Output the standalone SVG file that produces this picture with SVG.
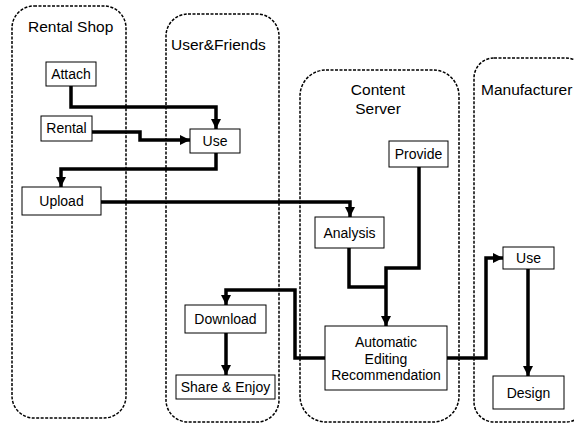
<svg xmlns="http://www.w3.org/2000/svg" width="574" height="425" viewBox="0 0 574 425">
<defs>
<style>
.lane{fill:none;stroke:#000;stroke-width:1.5;stroke-dasharray:3,1.5}
.box{fill:#fff;stroke:#000;stroke-width:1}
.t{font-family:"Liberation Sans",Arial,sans-serif;font-size:14px;fill:#000;text-anchor:middle}
.lt{font-family:"Liberation Sans",Arial,sans-serif;font-size:15.5px;fill:#000}
.c{fill:none;stroke:#000;stroke-width:3.5;stroke-linejoin:miter}
</style>
<marker id="ah" viewBox="0 0 10 10" refX="10" refY="5" markerWidth="3" markerHeight="3" orient="auto" markerUnits="strokeWidth">
<path d="M0,0 L10,5 L0,10 z" fill="#000"/>
</marker>
</defs>
<rect width="574" height="425" fill="#fff"/>
<g id="lanes">
<g id="lane-rental"><rect class="lane" x="12" y="6" width="114" height="412" rx="22"/><text class="lt" x="28" y="32">Rental Shop</text></g>
<g id="lane-user"><rect class="lane" x="166" y="14" width="113" height="408" rx="22"/><text class="lt" x="171" y="50">User&amp;Friends</text></g>
<g id="lane-server"><rect class="lane" x="300" y="70" width="159" height="352" rx="26"/><text class="lt" x="378" y="95" text-anchor="middle">Content</text><text class="lt" x="378" y="114" text-anchor="middle">Server</text></g>
<g id="lane-mfr"><rect class="lane" x="474" y="58" width="112" height="364" rx="20"/><text class="lt" x="481" y="95">Manufacturer</text></g>
</g>
<g id="connectors">
<path class="c" d="M71,86 V107 H216 V129" marker-end="url(#ah)"/>
<path class="c" d="M92,132 H140 V140 H190" marker-end="url(#ah)"/>
<path class="c" d="M216,153 V169 H61 V187" marker-end="url(#ah)"/>
<path class="c" d="M101,202 H350 V217" marker-end="url(#ah)"/>
<path class="c" d="M419,167 V268 H386 V326" marker-end="url(#ah)"/>
<path class="c" d="M349,248 V287 H386"/>
<path class="c" d="M325,358 H295 V290 H226 V305" marker-end="url(#ah)"/>
<path class="c" d="M447,358 H486 V258 H503" marker-end="url(#ah)"/>
<path class="c" d="M528,269 V376" marker-end="url(#ah)"/>
<path class="c" d="M226,333 V375" marker-end="url(#ah)"/>
</g>
<g id="attach"><rect class="box" x="46" y="62" width="50" height="24"/><text class="t" x="71" y="79">Attach</text></g>
<g id="rental"><rect class="box" x="41" y="116" width="51" height="25"/><text class="t" x="66.5" y="133">Rental</text></g>
<g id="use-user"><rect class="box" x="190" y="129" width="50" height="24"/><text class="t" x="215" y="146">Use</text></g>
<g id="upload"><rect class="box" x="22" y="187" width="79" height="28"/><text class="t" x="61.5" y="206">Upload</text></g>
<g id="provide"><rect class="box" x="389" y="141" width="59" height="26"/><text class="t" x="418.5" y="159">Provide</text></g>
<g id="analysis"><rect class="box" x="315" y="217" width="69" height="31"/><text class="t" x="349.5" y="238">Analysis</text></g>
<g id="auto"><rect class="box" x="325" y="326" width="122" height="64"/><text class="t" x="386" y="347">Automatic</text><text class="t" x="386" y="363.5">Editing</text><text class="t" x="386" y="380">Recommendation</text></g>
<g id="use-mfr"><rect class="box" x="503" y="247" width="51" height="22"/><text class="t" x="528.5" y="263">Use</text></g>
<g id="design"><rect class="box" x="493" y="376" width="71" height="33"/><text class="t" x="528.5" y="398">Design</text></g>
<g id="download"><rect class="box" x="185" y="305" width="81" height="28"/><text class="t" x="225.5" y="324">Download</text></g>
<g id="share"><rect class="box" x="176" y="375" width="99" height="24"/><text class="t" x="225.5" y="392">Share &amp; Enjoy</text></g>
</svg>
